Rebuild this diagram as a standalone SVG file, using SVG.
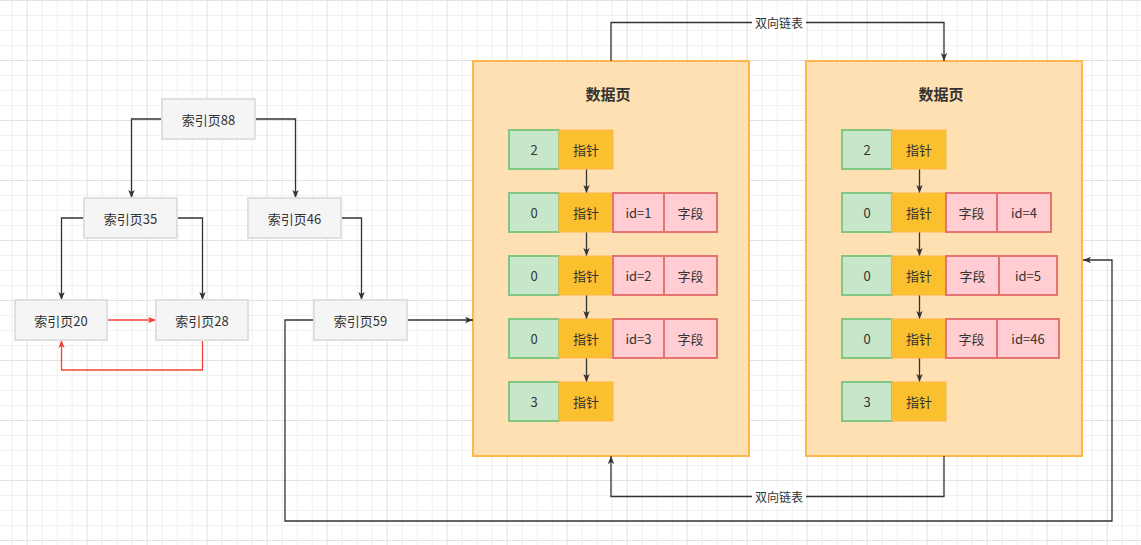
<svg xmlns="http://www.w3.org/2000/svg" width="1141" height="545" viewBox="0 0 1141 545">
<style>
text{font-family:"Noto Sans CJK SC","Liberation Sans",sans-serif;font-size:13px;fill:#333;text-anchor:middle;dominant-baseline:central}
.idx{fill:#f5f5f5;stroke:#e0e0e0;stroke-width:2}
.page{fill:#ffe0b2;stroke:#ffb74d;stroke-width:2}
.g{fill:#c8e6c9;stroke:#81c784;stroke-width:2}
.y{fill:#fbc02d;stroke:#ffb74d;stroke-width:1}
.p{fill:#ffcdd2;stroke:#e57373;stroke-width:2}
.c{fill:none;stroke:#333;stroke-width:1.3}
.r{fill:none;stroke:#f44336;stroke-width:1.3}
.t{font-size:15px;font-weight:bold}
.lbl{font-size:12px}
</style>
<defs>
<pattern id="grid" x="-33.3" y="0" width="60" height="60" patternUnits="userSpaceOnUse">
<rect width="60" height="60" fill="#fff"/>
<path d="M15.5 0V60M30.5 0V60M45.5 0V60M0 15.5H60M0 30.5H60M0 45.5H60" stroke="#f0f0f0" stroke-width="1"/>
<path d="M0.5 0V60M0 0.5H60" stroke="#e2e2e2" stroke-width="1"/>
</pattern>
<marker id="a" viewBox="0 0 10 8" refX="10" refY="4" markerWidth="8" markerHeight="7" markerUnits="userSpaceOnUse" orient="auto">
<path d="M0 0L10 4L0 8L2.5 4z" fill="#333"/>
</marker>
<marker id="ar" viewBox="0 0 10 8" refX="10" refY="4" markerWidth="8" markerHeight="7" markerUnits="userSpaceOnUse" orient="auto">
<path d="M0 0L10 4L0 8L2.5 4z" fill="#f44336"/>
</marker>
</defs>
<rect width="1141" height="545" fill="url(#grid)"/>

<g id="page1">
<rect class="page" x="473" y="61" width="276" height="395"/>
<text class="t" x="608" y="93">数据页</text>
</g>
<g id="page2">
<rect class="page" x="806" y="61" width="276" height="395"/>
<text class="t" x="941" y="93">数据页</text>
</g>

<g id="connectors">
<path class="c" d="M162 119H131.5V198" marker-end="url(#a)"/>
<path class="c" d="M255 119H295.5V198" marker-end="url(#a)"/>
<path class="c" d="M84 218H61.5V300" marker-end="url(#a)"/>
<path class="c" d="M177 218H202.5V300" marker-end="url(#a)"/>
<path class="c" d="M341 218H361.5V300" marker-end="url(#a)"/>
<path class="r" d="M107 320H156" marker-end="url(#ar)"/>
<path class="r" d="M202.5 340V370H61.5V340" marker-end="url(#ar)"/>
<path class="c" d="M407 320H473" marker-end="url(#a)"/>
<path class="c" d="M314 320H285V521H1112V260H1083" marker-end="url(#a)"/>
<path class="c" d="M611 61V22.5H944V61" marker-end="url(#a)"/>
<path class="c" d="M944 456V496.5H611V456" marker-end="url(#a)"/>
<path class="c" d="M586.5 169V193" marker-end="url(#a)"/>
<path class="c" d="M586.5 232V256" marker-end="url(#a)"/>
<path class="c" d="M586.5 295V319" marker-end="url(#a)"/>
<path class="c" d="M586.5 358V382" marker-end="url(#a)"/>
<path class="c" d="M919.5 169V193" marker-end="url(#a)"/>
<path class="c" d="M919.5 232V256" marker-end="url(#a)"/>
<path class="c" d="M919.5 295V319" marker-end="url(#a)"/>
<path class="c" d="M919.5 358V382" marker-end="url(#a)"/>
<rect x="752" y="15" width="54" height="16" fill="#fff"/>
<text class="lbl" x="779" y="22.5">双向链表</text>
<rect x="752" y="489" width="54" height="16" fill="#fff"/>
<text class="lbl" x="779" y="496.5">双向链表</text>
</g>

<g id="idx88"><rect class="idx" x="162" y="99" width="93" height="40"/><text x="208.5" y="119">索引页88</text></g>
<g id="idx35"><rect class="idx" x="84" y="198" width="93" height="40"/><text x="130.5" y="218">索引页35</text></g>
<g id="idx46"><rect class="idx" x="248" y="198" width="93" height="40"/><text x="294.5" y="218">索引页46</text></g>
<g id="idx20"><rect class="idx" x="15" y="300" width="92" height="40"/><text x="61" y="320">索引页20</text></g>
<g id="idx28"><rect class="idx" x="156" y="300" width="92" height="40"/><text x="202" y="320">索引页28</text></g>
<g id="idx59"><rect class="idx" x="314" y="300" width="93" height="40"/><text x="360.5" y="320">索引页59</text></g>

<g id="p1r1"><rect class="g" x="509" y="130" width="50" height="39"/><text x="534" y="149.5">2</text><rect class="y" x="559" y="130" width="54" height="39"/><text x="586" y="149.5">指针</text></g>
<g id="p1r2"><rect class="g" x="509" y="193" width="50" height="39"/><text x="534" y="212.5">0</text><rect class="y" x="559" y="193" width="54" height="39"/><text x="586" y="212.5">指针</text><rect class="p" x="613" y="193" width="51" height="39"/><text x="638.5" y="212.5">id=1</text><rect class="p" x="664" y="193" width="53" height="39"/><text x="690.5" y="212.5">字段</text></g>
<g id="p1r3"><rect class="g" x="509" y="256" width="50" height="39"/><text x="534" y="275.5">0</text><rect class="y" x="559" y="256" width="54" height="39"/><text x="586" y="275.5">指针</text><rect class="p" x="613" y="256" width="51" height="39"/><text x="638.5" y="275.5">id=2</text><rect class="p" x="664" y="256" width="53" height="39"/><text x="690.5" y="275.5">字段</text></g>
<g id="p1r4"><rect class="g" x="509" y="319" width="50" height="39"/><text x="534" y="338.5">0</text><rect class="y" x="559" y="319" width="54" height="39"/><text x="586" y="338.5">指针</text><rect class="p" x="613" y="319" width="51" height="39"/><text x="638.5" y="338.5">id=3</text><rect class="p" x="664" y="319" width="53" height="39"/><text x="690.5" y="338.5">字段</text></g>
<g id="p1r5"><rect class="g" x="509" y="382" width="50" height="39"/><text x="534" y="401.5">3</text><rect class="y" x="559" y="382" width="54" height="39"/><text x="586" y="401.5">指针</text></g>

<g id="p2r1"><rect class="g" x="842" y="130" width="50" height="39"/><text x="867" y="149.5">2</text><rect class="y" x="892" y="130" width="54" height="39"/><text x="919" y="149.5">指针</text></g>
<g id="p2r2"><rect class="g" x="842" y="193" width="50" height="39"/><text x="867" y="212.5">0</text><rect class="y" x="892" y="193" width="54" height="39"/><text x="919" y="212.5">指针</text><rect class="p" x="946" y="193" width="51" height="39"/><text x="971.5" y="212.5">字段</text><rect class="p" x="997" y="193" width="54" height="39"/><text x="1024" y="212.5">id=4</text></g>
<g id="p2r3"><rect class="g" x="842" y="256" width="50" height="39"/><text x="867" y="275.5">0</text><rect class="y" x="892" y="256" width="54" height="39"/><text x="919" y="275.5">指针</text><rect class="p" x="946" y="256" width="53" height="39"/><text x="972.5" y="275.5">字段</text><rect class="p" x="999" y="256" width="58" height="39"/><text x="1028" y="275.5">id=5</text></g>
<g id="p2r4"><rect class="g" x="842" y="319" width="50" height="39"/><text x="867" y="338.5">0</text><rect class="y" x="892" y="319" width="54" height="39"/><text x="919" y="338.5">指针</text><rect class="p" x="946" y="319" width="51" height="39"/><text x="971.5" y="338.5">字段</text><rect class="p" x="997" y="319" width="62" height="39"/><text x="1028" y="338.5">id=46</text></g>
<g id="p2r5"><rect class="g" x="842" y="382" width="50" height="39"/><text x="867" y="401.5">3</text><rect class="y" x="892" y="382" width="54" height="39"/><text x="919" y="401.5">指针</text></g>
</svg>
